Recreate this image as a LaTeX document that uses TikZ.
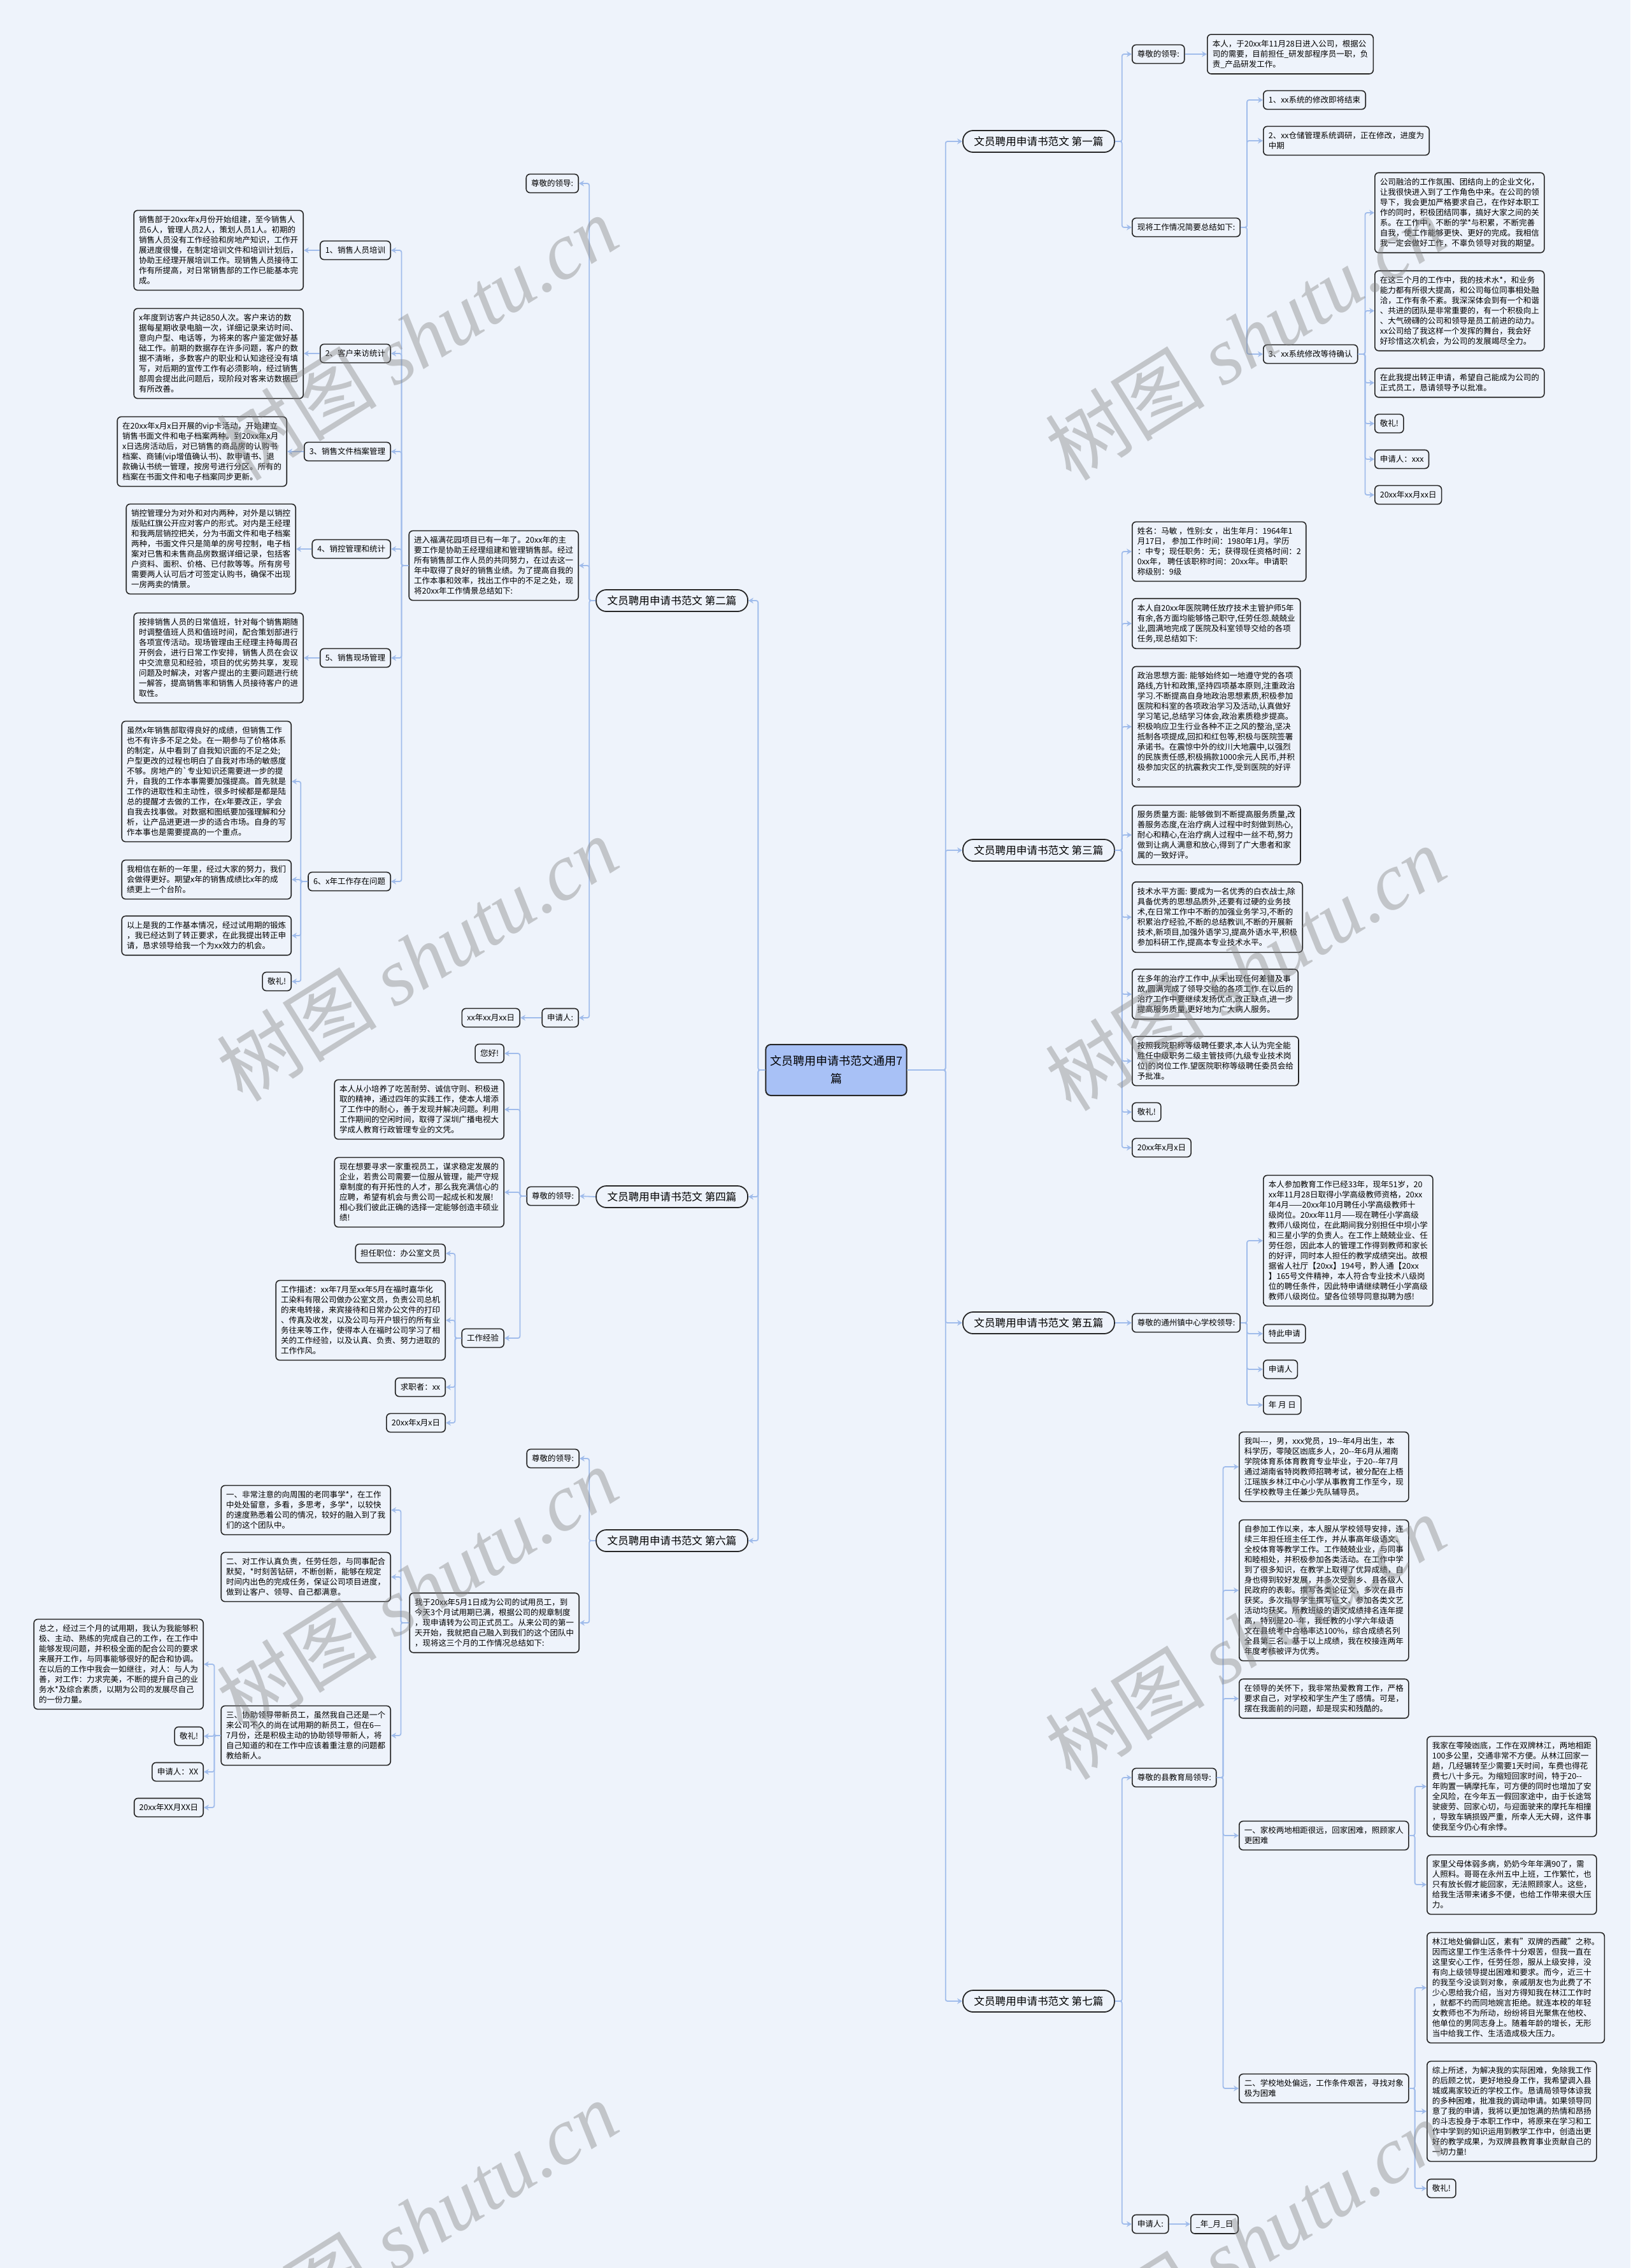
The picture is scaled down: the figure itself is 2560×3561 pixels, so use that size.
\documentclass[tikz,border=0pt]{standalone}
\usepackage{fontspec}
\setmainfont{Noto Sans CJK SC}
\newfontfamily\wmfont{Liberation Serif}
\usetikzlibrary{arrows.meta,positioning,calc}

\definecolor{bgc}{RGB}{238,243,251}
\definecolor{linkc}{RGB}{160,188,235}
\definecolor{rootc}{RGB}{168,193,246}
\definecolor{edgec}{RGB}{38,38,38}

\begin{document}
\begin{tikzpicture}[
  x=0.5pt, y=-0.5pt,
  font=\fontsize{6.25}{8}\selectfont,
  box/.style={draw=edgec, line width=0.8pt, rounded corners=3pt, fill=bgc,
    align=left, inner xsep=4pt, inner ysep=4.4pt},
  boxr/.style={box, anchor=west},
  boxl/.style={box, anchor=east},
  branch/.style={draw=edgec, line width=0.9pt, rounded corners=8pt, fill=bgc,
    minimum width=119pt, minimum height=17pt, font=\fontsize{8.3}{10}\selectfont},
  root/.style={draw=edgec, line width=1pt, rounded corners=4pt, fill=rootc,
    align=center, minimum width=106.5pt, minimum height=40pt,
    font=\fontsize{9}{14}\selectfont},
  link/.style={draw=linkc, line width=0.9pt, rounded corners=1.5pt,
    -{Stealth[length=4pt, width=4.5pt]}},
  wm/.style={text=black!50, opacity=0.4, rotate=32, font=\fontsize{63}{63}\selectfont}
]
\useasboundingbox (0,0) rectangle (2560,3561);
\fill[bgc] (0,0) rectangle (2560,3561);

% ── centre ──────────────────────────────────────────────────────────────
\node[root] (root) at (1313,1680) {文员聘用申请书范文通用7\\篇};
\node[branch, anchor=west] (b1) at (1511,222) {文员聘用申请书范文 第一篇};
\node[branch, anchor=west] (b3) at (1511,1335) {文员聘用申请书范文 第三篇};
\node[branch, anchor=west] (b5) at (1511,2077) {文员聘用申请书范文 第五篇};
\node[branch, anchor=west] (b7) at (1511,3142) {文员聘用申请书范文 第七篇};
\node[branch, anchor=east] (b2) at (1175,943) {文员聘用申请书范文 第二篇};
\node[branch, anchor=east] (b4) at (1175,1879) {文员聘用申请书范文 第四篇};
\node[branch, anchor=east] (b6) at (1175,2419) {文员聘用申请书范文 第六篇};
\foreach \c in {b1,b3,b5,b7} \draw[link] (root.east) -- ++(60,0) |- (\c.west);
\foreach \c in {b2,b4,b6} \draw[link] (root.west) -- ++(-11,0) |- (\c.east);

% ── 第一篇 ──────────────────────────────────────────────────────────────
\node[boxr] (r1a) at (1777,85) {尊敬的领导:};
\node[boxr] (r1b) at (1777,357) {现将工作情况简要总结如下:};
\node[boxr] (r1a1) at (1895,85) {本人，于20xx年11月28日进入公司，根据公\\司的需要，目前担任\_研发部程序员一职，负\\责\_产品研发工作。};
\node[boxr] (r1b1) at (1983,157) {1、xx系统的修改即将结束};
\node[boxr] (r1b2) at (1983,221) {2、xx仓储管理系统调研，正在修改，进度为\\中期};
\node[boxr] (r1b3) at (1983,556) {3、xx系统修改等待确认};
\node[boxr] (r1c1) at (2158,334) {公司融洽的工作氛围、团结向上的企业文化，\\让我很快进入到了工作角色中来。在公司的领\\导下，我会更加严格要求自己，在作好本职工\\作的同时，积极团结同事，搞好大家之间的关\\系。在工作中，不断的学*与积累，不断完善\\自我，使工作能够更快、更好的完成。我相信\\我一定会做好工作，不辜负领导对我的期望。};
\node[boxr] (r1c2) at (2158,488) {在这三个月的工作中，我的技术水*，和业务\\能力都有所很大提高，和公司每位同事相处融\\洽，工作有条不紊。我深深体会到有一个和谐\\、共进的团队是非常重要的，有一个积极向上\\、大气磅礴的公司和领导是员工前进的动力。\\xx公司给了我这样一个发挥的舞台，我会好\\好珍惜这次机会，为公司的发展竭尽全力。};
\node[boxr] (r1c3) at (2158,601) {在此我提出转正申请，希望自己能成为公司的\\正式员工，恳请领导予以批准。};
\node[boxr] (r1c4) at (2158,665) {敬礼!};
\node[boxr] (r1c5) at (2158,721) {申请人：xxx};
\node[boxr] (r1c6) at (2158,777) {20xx年xx月xx日};
\foreach \c in {r1a,r1b} \draw[link] (b1.east) -- ++(11,0) |- (\c.west);
\draw[link] (r1a.east) -- (r1a1.west);
\foreach \c in {r1b1,r1b2,r1b3} \draw[link] (r1b.east) -- ++(10,0) |- (\c.west);
\foreach \c in {r1c1,r1c2,r1c3,r1c4,r1c5,r1c6} \draw[link] (r1b3.east) -- ++(11,0) |- (\c.west);

% ── 第三篇 ──────────────────────────────────────────────────────────────
\node[boxr] (r3a) at (1777,866) {姓名：马敏 ，性别:女 ，出生年月：1964年1\\月17日， 参加工作时间：1980年1月。学历\\：中专；现任职务：无；获得现任资格时间：2\\0xx年， 聘任该职称时间：20xx年。申请职\\称级别：9级};
\node[boxr] (r3b) at (1777,979) {本人自20xx年医院聘任放疗技术主管护师5年\\有余,各方面均能够恪己职守,任劳任怨.兢兢业\\业,圆满地完成了医院及科室领导交给的各项\\任务,现总结如下:};
\node[boxr] (r3c) at (1777,1141) {政治思想方面: 能够始终如一地遵守党的各项\\路线,方针和政策,坚持四项基本原则,注重政治\\学习.不断提高自身地政治思想素质,积极参加\\医院和科室的各项政治学习及活动,认真做好\\学习笔记,总结学习体会,政治素质稳步提高。\\积极响应卫生行业各种不正之风的整治,坚决\\抵制各项提成,回扣和红包等,积极与医院签署\\承诺书。在震惊中外的纹川大地震中,以强烈\\的民族责任感,积极捐款1000余元人民币,并积\\极参加灾区的抗震救灾工作,受到医院的好评\\。};
\node[boxr] (r3d) at (1777,1311) {服务质量方面: 能够做到不断提高服务质量,改\\善服务态度,在治疗病人过程中时刻做到热心,\\耐心和精心,在治疗病人过程中一丝不苟,努力\\做到让病人满意和放心,得到了广大患者和家\\属的一致好评。};
\node[boxr] (r3e) at (1777,1440) {技术水平方面: 要成为一名优秀的白衣战士,除\\具备优秀的思想品质外,还要有过硬的业务技\\术,在日常工作中不断的加强业务学习,不断的\\积累治疗经验,不断的总结教训,不断的开展新\\技术,新项目,加强外语学习,提高外语水平,积极\\参加科研工作,提高本专业技术水平。};
\node[boxr] (r3f) at (1777,1561) {在多年的治疗工作中,从未出现任何差错及事\\故,圆满完成了领导交给的各项工作.在以后的\\治疗工作中要继续发扬优点,改正缺点,进一步\\提高服务质量,更好地为广大病人服务。};
\node[boxr] (r3g) at (1777,1666) {按照我院职称等级聘任要求,本人认为完全能\\胜任中级职务二级主管技师(九级专业技术岗\\位)的岗位工作.望医院职称等级聘任委员会给\\予批准。};
\node[boxr] (r3h) at (1777,1746) {敬礼!};
\node[boxr] (r3i) at (1777,1802) {20xx年x月x日};
\foreach \c in {r3a,r3b,r3c,r3d,r3e,r3f,r3g,r3h,r3i} \draw[link] (b3.east) -- ++(11,0) |- (\c.west);

% ── 第五篇 ──────────────────────────────────────────────────────────────
\node[boxr] (r5a) at (1777,2077) {尊敬的通州镇中心学校领导:};
\node[boxr] (r5b) at (1983,1948) {本人参加教育工作已经33年，现年51岁，20\\xx年11月28日取得小学高级教师资格，20xx\\年4月——20xx年10月聘任小学高级教师十\\级岗位。20xx年11月——现在聘任小学高级\\教师八级岗位，在此期间我分别担任中坝小学\\和三星小学的负责人。在工作上兢兢业业、任\\劳任怨，因此本人的管理工作得到教师和家长\\的好评，同时本人担任的教学成绩突出。故根\\据省人社厅【20xx】194号，黔人通【20xx\\】165号文件精神，本人符合专业技术八级岗\\位的聘任条件，因此特申请继续聘任小学高级\\教师八级岗位。望各位领导同意拟聘为感!};
\node[boxr] (r5c) at (1983,2094) {特此申请};
\node[boxr] (r5d) at (1983,2150) {申请人};
\node[boxr] (r5e) at (1983,2206) {年 月 日};
\draw[link] (b5.east) -- (r5a.west);
\foreach \c in {r5b,r5c,r5d,r5e} \draw[link] (r5a.east) -- ++(10,0) |- (\c.west);

% ── 第七篇 ──────────────────────────────────────────────────────────────
\node[boxr] (r7a) at (1777,2791) {尊敬的县教育局领导:};
\node[boxr] (r7b) at (1777,3492) {申请人:};
\node[boxr] (r7c) at (1869,3492) {\_年\_月\_日};
\node[boxr] (r7d) at (1945,2303) {我叫-{}-{}-，男，xxx党员，19-{}-年4月出生，本\\科学历，零陵区凼底乡人，20-{}-年6月从湘南\\学院体育系体育教育专业毕业，于20-{}-年7月\\通过湖南省特岗教师招聘考试，被分配在上梧\\江瑶族乡林江中心小学从事教育工作至今，现\\任学校教导主任兼少先队辅导员。};
\node[boxr] (r7e) at (1945,2497) {自参加工作以来，本人服从学校领导安排，连\\续三年担任班主任工作，并从事高年级语文、\\全校体育等教学工作。工作兢兢业业，与同事\\和睦相处，并积极参加各类活动。在工作中学\\到了很多知识，在教学上取得了优异成绩，自\\身也得到较好发展，并多次受到乡、县各级人\\民政府的表彰。撰写各类论征文，多次在县市\\获奖。多次指导学生撰写征文、参加各类文艺\\活动均获奖。所教班级的语文成绩排名连年提\\高，特别是20-{}-年，我任教的小学六年级语\\文在县统考中合格率达100\%，综合成绩名列\\全县第三名。基于以上成绩，我在校接连两年\\年度考核被评为优秀。};
\node[boxr] (r7f) at (1945,2667) {在领导的关怀下，我非常热爱教育工作，严格\\要求自己，对学校和学生产生了感情。可是，\\摆在我面前的问题，却是现实和残酷的。};
\node[boxr] (r7g) at (1945,2882) {一、家校两地相距很远，回家困难，照顾家人\\更困难};
\node[boxr] (r7h) at (1945,3279) {二、学校地处偏远，工作条件艰苦，寻找对象\\极为困难};
\node[boxr] (r7i) at (2240,2805) {我家在零陵凼底，工作在双牌林江，两地相距\\100多公里，交通非常不方便。从林江回家一\\趟，几经辗转至少需要1天时间，车费也得花\\费七八十多元。为缩短回家时间，特于20-{}-\\年购置一辆摩托车，可方便的同时也增加了安\\全风险，在今年五一假回家途中，由于长途驾\\驶疲劳、回家心切，与迎面驶来的摩托车相撞\\，导致车辆损毁严重，所幸人无大碍，这件事\\使我至今仍心有余悸。};
\node[boxr] (r7j) at (2240,2959) {家里父母体弱多病，奶奶今年年满90了，需\\人照料。哥哥在永州五中上班，工作繁忙，也\\只有放长假才能回家，无法照顾家人。这些，\\给我生活带来诸多不便，也给工作带来很大压\\力。};
\node[boxr] (r7k) at (2240,3121) {林江地处偏僻山区，素有"双牌的西藏"之称。\\因而这里工作生活条件十分艰苦，但我一直在\\这里安心工作，任劳任怨，服从上级安排，没\\有向上级领导提出困难和要求。而今，近三十\\的我至今没谈到对象，亲戚朋友也为此费了不\\少心思给我介绍，当对方得知我在林江工作时\\，就都不约而同地婉言拒绝。就连本校的年轻\\女教师也不为所动，纷纷将目光聚焦在他校、\\他单位的男同志身上。随着年龄的增长，无形\\当中给我工作、生活造成极大压力。};
\node[boxr] (r7l) at (2240,3315) {综上所述，为解决我的实际困难，免除我工作\\的后顾之忧，更好地投身工作，我希望调入县\\城或离家较近的学校工作。恳请局领导体谅我\\的多种困难，批准我的调动申请。如果领导同\\意了我的申请，我将以更加饱满的热情和昂扬\\的斗志投身于本职工作中，将原来在学习和工\\作中学到的知识运用到教学工作中，创造出更\\好的教学成果，为双牌县教育事业贡献自己的\\一切力量!};
\node[boxr] (r7m) at (2240,3436) {敬礼!};
\foreach \c in {r7a,r7b} \draw[link] (b7.east) -- ++(11,0) |- (\c.west);
\draw[link] (r7b.east) -- (r7c.west);
\foreach \c in {r7d,r7e,r7f,r7g,r7h} \draw[link] (r7a.east) -- ++(10,0) |- (\c.west);
\foreach \c in {r7i,r7j} \draw[link] (r7g.east) -- ++(9,0) |- (\c.west);
\foreach \c in {r7k,r7l,r7m} \draw[link] (r7h.east) -- ++(9,0) |- (\c.west);

% ── 第二篇 ──────────────────────────────────────────────────────────────
\node[boxl] (l2a) at (909,288) {尊敬的领导:};
\node[boxl] (l2b) at (909,888) {进入福满花园项目已有一年了。20xx年的主\\要工作是协助王经理组建和管理销售部。经过\\所有销售部工作人员的共同努力，在过去这一\\年中取得了良好的销售业绩。为了提高自我的\\工作本事和效率，找出工作中的不足之处，现\\将20xx年工作情景总结如下:};
\node[boxl] (l2c) at (909,1598) {申请人:};
\node[boxl] (l2d) at (817,1598) {xx年xx月xx日};
\node[boxl] (l2e) at (614,393) {1、销售人员培训};
\node[boxl] (l2f) at (614,555) {2、客户来访统计};
\node[boxl] (l2g) at (614,709) {3、销售文件档案管理};
\node[boxl] (l2h) at (614,862) {4、销控管理和统计};
\node[boxl] (l2i) at (614,1033) {5、销售现场管理};
\node[boxl] (l2j) at (614,1384) {6、x年工作存在问题};
\node[boxl] (l2e1) at (477,393) {销售部于20xx年x月份开始组建，至今销售人\\员6人，管理人员2人，策划人员1人。初期的\\销售人员没有工作经验和房地产知识，工作开\\展进度很慢，在制定培训文件和培训计划后，\\协助王经理开展培训工作。现销售人员接待工\\作有所提高，对日常销售部的工作已能基本完\\成。};
\node[boxl] (l2f1) at (477,555) {x年度到访客户共记850人次。客户来访的数\\据每星期收录电脑一次，详细记录来访时间、\\意向户型、电话等，为将来的客户鉴定做好基\\础工作。前期的数据存在许多问题，客户的数\\据不清晰，多数客户的职业和认知途径没有填\\写，对后期的宣传工作有必须影响，经过销售\\部周会提出此问题后，现阶段对客来访数据已\\有所改善。};
\node[boxl] (l2g1) at (451,709) {在20xx年x月x日开展的vip卡活动，开始建立\\销售书面文件和电子档案两种。到20xx年x月\\x日选房活动后，对已销售的商品房的认购书\\档案、商铺(vip增值确认书)、款申请书、退\\款确认书统一管理，按房号进行分区。所有的\\档案在书面文件和电子档案同步更新。};
\node[boxl] (l2h1) at (465,862) {销控管理分为对外和对内两种，对外是以销控\\版贴红旗公开应对客户的形式。对内是王经理\\和我两层销控把关，分为书面文件和电子档案\\两种，书面文件只是简单的房号控制，电子档\\案对已售和未售商品房数据详细记录，包括客\\户资料、面积、价格、已付款等等。所有房号\\需要两人认可后才可签定认购书，确保不出现\\一房两卖的情景。};
\node[boxl] (l2i1) at (477,1033) {按排销售人员的日常值班，针对每个销售期随\\时调整值班人员和值班时间，配合策划部进行\\各项宣传活动。现场管理由王经理主持每周召\\开例会，进行日常工作安排，销售人员在会议\\中交流意见和经验，项目的优劣势共享，发现\\问题及时解决，对客户提出的主要问题进行统\\一解答，提高销售率和销售人员接待客户的进\\取性。};
\node[boxl] (l2k) at (458,1227) {虽然x年销售部取得良好的成绩，但销售工作\\也不有许多不足之处。在一期参与了价格体系\\的制定，从中看到了自我知识面的不足之处;\\户型更改的过程也明白了自我对市场的敏感度\\不够。房地产的\textasciigrave 专业知识还需要进一步的提\\升，自我的工作本事需要加强提高。首先就是\\工作的进取性和主动性，很多时候都是都是陆\\总的提醒才去做的工作，在x年要改正，学会\\自我去找事做。对数据和图纸要加强理解和分\\析，让产品进更进一步的适合市场。自身的写\\作本事也是需要提高的一个重点。};
\node[boxl] (l2l) at (458,1381) {我相信在新的一年里，经过大家的努力，我们\\会做得更好。期望x年的销售成绩比x年的成\\绩更上一个台阶。};
\node[boxl] (l2m) at (458,1469) {以上是我的工作基本情况，经过试用期的锻炼\\，我已经达到了转正要求，在此我提出转正申\\请，恳求领导给我一个为xx效力的机会。};
\node[boxl] (l2n) at (458,1541) {敬礼!};
\foreach \c in {l2a,l2b,l2c} \draw[link] (b2.west) -- ++(-10,0) |- (\c.east);
\draw[link] (l2c.west) -- (l2d.east);
\foreach \c in {l2e,l2f,l2g,l2h,l2i,l2j} \draw[link] (l2b.west) -- ++(-11,0) |- (\c.east);
\draw[link] (l2e.west) -- (l2e1.east);
\draw[link] (l2f.west) -- (l2f1.east);
\draw[link] (l2g.west) -- (l2g1.east);
\draw[link] (l2h.west) -- (l2h1.east);
\draw[link] (l2i.west) -- (l2i1.east);
\foreach \c in {l2k,l2l,l2m,l2n} \draw[link] (l2j.west) -- ++(-11,0) |- (\c.east);

% ── 第四篇 ──────────────────────────────────────────────────────────────
\node[boxl] (l4a) at (910,1878) {尊敬的领导:};
\node[boxl] (l4b) at (792,1654) {您好!};
\node[boxl] (l4c) at (792,1742) {本人从小培养了吃苦耐劳、诚信守则、积极进\\取的精神，通过四年的实践工作，使本人增添\\了工作中的耐心，善于发现并解决问题。利用\\工作期间的空闲时间，取得了深圳广播电视大\\学成人教育行政管理专业的文凭。};
\node[boxl] (l4d) at (792,1872) {现在想要寻求一家重视员工，谋求稳定发展的\\企业，若贵公司需要一位服从管理，能严守规\\章制度的有开拓性的人才，那么我充满信心的\\应聘，希望有机会与贵公司一起成长和发展!\\相心我们彼此正确的选择一定能够创造丰硕业\\绩!};
\node[boxl] (l4e) at (792,2101) {工作经验};
\node[boxl] (l4f) at (700,1968) {担任职位：办公室文员};
\node[boxl] (l4g) at (700,2073) {工作描述：xx年7月至xx年5月在福时嘉华化\\工染料有限公司做办公室文员，负责公司总机\\的来电转接，来宾接待和日常办公文件的打印\\、传真及收发，以及公司与开户银行的所有业\\务往来等工作，使得本人在福时公司学习了相\\关的工作经验，以及认真、负责、努力进取的\\工作作风。};
\node[boxl] (l4h) at (700,2178) {求职者：xx};
\node[boxl] (l4i) at (700,2234) {20xx年x月x日};
\draw[link] (b4.west) -- (l4a.east);
\foreach \c in {l4b,l4c,l4d,l4e} \draw[link] (l4a.west) -- ++(-10,0) |- (\c.east);
\foreach \c in {l4f,l4g,l4h,l4i} \draw[link] (l4e.west) -- ++(-10,0) |- (\c.east);

% ── 第六篇 ──────────────────────────────────────────────────────────────
\node[boxl] (l6a) at (910,2290) {尊敬的领导:};
\node[boxl] (l6b) at (910,2548) {我于20xx年5月1日成为公司的试用员工，到\\今天3个月试用期已满，根据公司的规章制度\\，现申请转为公司正式员工。从来公司的第一\\天开始，我就把自己融入到我们的这个团队中\\，现将这三个月的工作情况总结如下:};
\node[boxl] (l6c) at (614,2371) {一、非常注意的向周围的老同事学*，在工作\\中处处留意，多看，多思考，多学*，以较快\\的速度熟悉着公司的情况，较好的融入到了我\\们的这个团队中。};
\node[boxl] (l6d) at (614,2476) {二、对工作认真负责，任劳任怨，与同事配合\\默契，*时刻苦钻研，不断创新，能够在规定\\时间内出色的完成任务，保证公司项目进度，\\做到让客户、领导、自己都满意。};
\node[boxl] (l6e) at (614,2725) {三、协助领导带新员工，虽然我自己还是一个\\来公司不久的尚在试用期的新员工，但在6—\\7月份，还是积极主动的协助领导带新人，将\\自己知道的和在工作中应该着重注意的问题都\\教给新人。};
\node[boxl] (l6f) at (320,2613) {总之，经过三个月的试用期，我认为我能够积\\极、主动、熟练的完成自己的工作，在工作中\\能够发现问题，并积极全面的配合公司的要求\\来展开工作，与同事能够很好的配合和协调。\\在以后的工作中我会一如继往，对人：与人为\\善，对工作：力求完美，不断的提升自己的业\\务水*及综合素质，以期为公司的发展尽自己\\的一份力量。};
\node[boxl] (l6g) at (320,2726) {敬礼!};
\node[boxl] (l6h) at (320,2782) {申请人：XX};
\node[boxl] (l6i) at (320,2838) {20xx年XX月XX日};
\foreach \c in {l6a,l6b} \draw[link] (b6.west) -- ++(-10,0) |- (\c.east);
\foreach \c in {l6c,l6d,l6e} \draw[link] (l6b.west) -- ++(-13,0) |- (\c.east);
\foreach \c in {l6f,l6g,l6h,l6i} \draw[link] (l6e.west) -- ++(-10,0) |- (\c.east);

% ── watermark ───────────────────────────────────────────────────────────
\foreach \wx/\wy [count=\i] in {655/530,655/1505,655/2495,655/3490,1955/530,1955/1520,1955/2570,1955/3520}
  \node[wm] (wm\i) at (\wx,\wy) {树图 {\wmfont\itshape shutu.cn}};

\end{tikzpicture}
\end{document}
